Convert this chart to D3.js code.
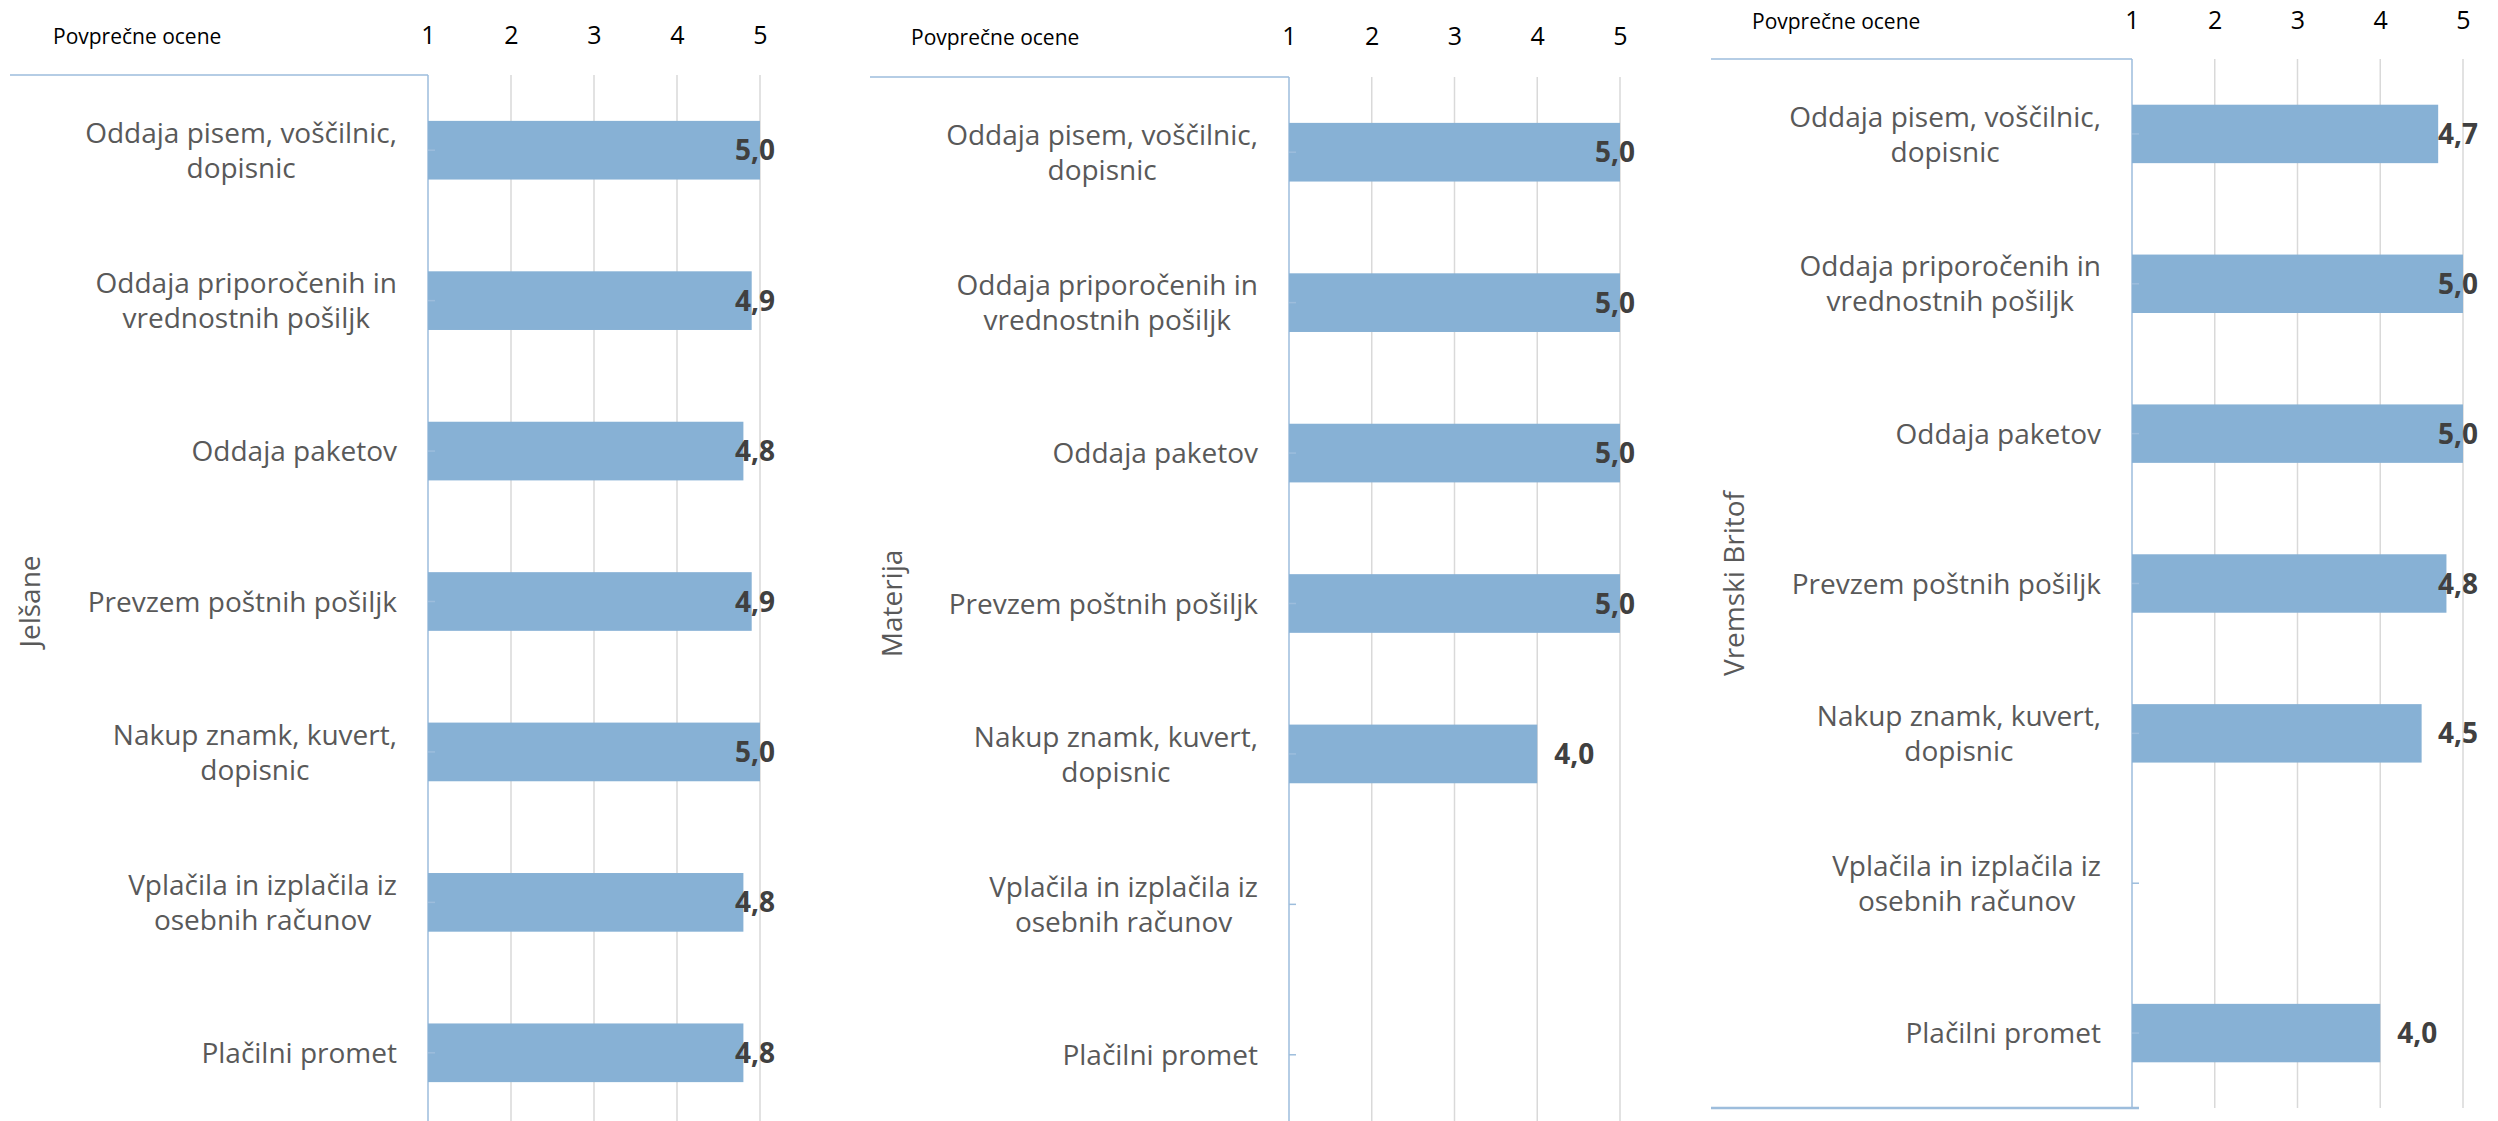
<!DOCTYPE html>
<html>
<head>
<meta charset="utf-8">
<script src="https://cdn.jsdelivr.net/npm/d3@7"></script>
<style>
  html, body { margin: 0; padding: 0; background: #ffffff; }
  svg { display: block; }
  text { font-family: "Open Sans", "Noto Sans", sans-serif; }
</style>
</head>
<body>
<svg id="chart" width="2498" height="1121"></svg>
<script>
// Services rated at each post office (line breaks mark label wrapping)
const categories = [
  "Oddaja pisem, voščilnic,\ndopisnic",
  "Oddaja priporočenih in\nvrednostnih pošiljk",
  "Oddaja paketov",
  "Prevzem poštnih pošiljk",
  "Nakup znamk, kuvert,\ndopisnic",
  "Vplačila in izplačila iz\nosebnih računov",
  "Plačilni promet"
];

// Post offices, one panel each
const offices = ["Jelšane", "Materija", "Vremski Britof"];

// Average ratings (null = no answers for that service)
const jelsane       = [5.0, 4.9, 4.8, 4.9, 5.0, 4.8, 4.8];
const materija      = [5.0, 5.0, 5.0, 5.0, 4.0, null, null];
const vremskiBritof = [4.7, 5.0, 5.0, 4.8, 4.5, null, 4.0];

const tickValues = [1, 2, 3, 4, 5];
const axisTitle = "Povprečne ocene";

const seriesValues = [jelsane, materija, vremskiBritof];

// Panel geometry
const layout = [
  { axisX: 428,  maxX: 760,  top: 75, bottom: 1128, lineStart: 10,   nameX: 30,   titleX: 53,   headBase: 44, showBottom: false },
  { axisX: 1289, maxX: 1620, top: 77, bottom: 1130, lineStart: 870,  nameX: 892,  titleX: 911,  headBase: 45, showBottom: false },
  { axisX: 2132, maxX: 2463, top: 59, bottom: 1108, lineStart: 1711, nameX: 1734, titleX: 1752, headBase: 29, showBottom: true }
];

const svg = d3.select("#chart");
svg.append("rect").attr("width", 2498).attr("height", 1121).attr("fill", "#ffffff");

const axisColor = "#9dbddc";
const gridColor = "#d9d9d9";
const barColor = "#87b1d5";
const labelColor = "#595959";
const valueColor = "#404040";
const fmt = v => d3.format(".1f")(v).replace(".", ",");

offices.forEach((office, p) => {
  const L = layout[p];
  const values = seriesValues[p];
  const data = categories.map((c, i) => ({ category: c, value: values[i] }));

  const x = d3.scaleLinear().domain([1, 5]).range([L.axisX, L.maxX]);
  const y = d3.scaleBand()
    .domain(categories)
    .range([L.top, L.bottom])
    .paddingInner(0.61)
    .paddingOuter(0.305);

  const g = svg.append("g").attr("class", "panel");

  // vertical gridlines
  g.append("g").selectAll("line")
    .data(tickValues.slice(1))
    .join("line")
    .attr("x1", d => x(d)).attr("x2", d => x(d))
    .attr("y1", L.top).attr("y2", L.bottom)
    .attr("stroke", gridColor).attr("stroke-width", 1.5);

  // value axis labels across the top
  const topAxis = d3.axisTop(x).tickValues(tickValues).tickSize(0).tickPadding(0).tickFormat(d3.format("d"));
  const ax = g.append("g").attr("transform", `translate(0,${L.headBase})`).call(topAxis);
  ax.select(".domain").remove();
  ax.selectAll("text")
    .attr("y", 0).attr("dy", 0)
    .attr("font-size", 25)
    .attr("font-family", "Open Sans, sans-serif")
    .attr("fill", "#000000");

  // axis title
  g.append("text")
    .attr("x", L.titleX)
    .attr("y", L.headBase)
    .attr("font-size", 21)
    .attr("fill", "#000000")
    .text(axisTitle);

  // frame: top rule and category axis
  g.append("line")
    .attr("x1", L.lineStart).attr("x2", L.axisX)
    .attr("y1", L.top).attr("y2", L.top)
    .attr("stroke", axisColor).attr("stroke-width", 1.5);
  g.append("line")
    .attr("x1", L.axisX).attr("x2", L.axisX)
    .attr("y1", L.top).attr("y2", L.bottom)
    .attr("stroke", axisColor).attr("stroke-width", 1.5);
  if (L.showBottom) {
    g.append("line")
      .attr("x1", L.lineStart).attr("x2", L.axisX + 7)
      .attr("y1", L.bottom).attr("y2", L.bottom)
      .attr("stroke", axisColor).attr("stroke-width", 2.5);
  }

  // bars
  const present = data.filter(d => d.value !== null);
  g.append("g").selectAll("rect")
    .data(present)
    .join("rect")
    .attr("x", x(1))
    .attr("y", d => y(d.category))
    .attr("width", d => x(d.value) - x(1))
    .attr("height", y.bandwidth())
    .attr("fill", barColor);

  // small ticks on the category axis
  g.append("g").selectAll("line")
    .data(categories)
    .join("line")
    .attr("x1", L.axisX).attr("x2", L.axisX + 7)
    .attr("y1", d => y(d) + y.bandwidth() / 2)
    .attr("y2", d => y(d) + y.bandwidth() / 2)
    .attr("stroke", axisColor).attr("stroke-width", 1.5);

  // value labels: outside the bar end, kept within the plot edge
  const vl = g.append("g").selectAll("text")
    .data(present)
    .join("text")
    .attr("font-size", 28)
    .attr("font-weight", 700)
    .attr("fill", valueColor)
    .attr("dy", "0.36em")
    .attr("y", d => y(d.category) + y.bandwidth() / 2)
    .text(d => fmt(d.value));
  vl.each(function (d) {
    const w = this.getComputedTextLength();
    const start = Math.min(x(d.value) + 17, x(5) + 15 - w);
    d3.select(this).attr("x", start);
  });

  // category labels: wrapped lines centred within a right-aligned block
  const labelRight = L.axisX - 31;
  const lineH = 35;
  g.append("g").selectAll("g")
    .data(categories)
    .join("g")
    .each(function (c) {
      const lines = c.split("\n");
      const grp = d3.select(this);
      const cy = y(c) + y.bandwidth() / 2;
      const texts = lines.map((t, k) => grp.append("text")
        .attr("font-size", 28)
        .attr("fill", labelColor)
        .attr("text-anchor", "middle")
        .attr("dy", "0.36em")
        .attr("y", cy + (k - (lines.length - 1) / 2) * lineH)
        .text(t));
      const maxW = d3.max(texts, t => t.node().getComputedTextLength());
      texts.forEach(t => t.attr("x", labelRight - maxW / 2));
    });

  // rotated series name
  const cy = (L.top + L.bottom) / 2;
  g.append("text")
    .attr("transform", `translate(${L.nameX},${cy}) rotate(-90)`)
    .attr("text-anchor", "middle")
    .attr("dy", "0.36em")
    .attr("font-size", 28)
    .attr("fill", labelColor)
    .text(office);
});
</script>
</body>
</html>
